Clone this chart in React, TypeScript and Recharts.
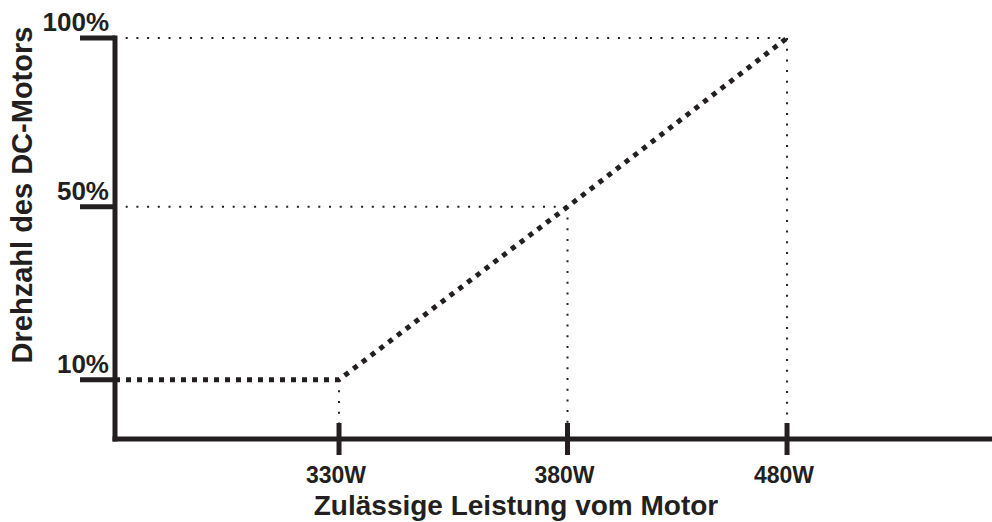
import { LineChart, Line, XAxis, YAxis, ReferenceLine, Label } from "recharts";

// x axis is drawn not to scale: each tick sits at its own slot
const powerLabels = ["330W", "380W", "480W"];
const powerPos = [1, 2.02, 3];

// y axis likewise not to scale (0–100 slot units)
const speedLabels = ["10%", "50%", "100%"];
const speedPos = [14.8, 57.9, 100];

const INK = "#231f20";
const FONT = '"Liberation Sans", Arial, Helvetica, sans-serif';

// motor speed curve: flat at minimum speed, then rising
const curve = [
  { x: 0, y: speedPos[0] },
  ...powerPos.map((p, i) => ({ x: p, y: speedPos[i] })),
];

function PowerTick({ x, y, index }: any) {
  return (
    <g>
      <line x1={x} x2={x} y1={y - 16} y2={y + 16} stroke={INK} strokeWidth={5} />
      <text
        x={x - 3}
        y={y + 44}
        textAnchor="middle"
        fontFamily={FONT}
        fontSize={23}
        fontWeight="bold"
        fill={INK}
      >
        {powerLabels[index]}
      </text>
    </g>
  );
}

function SpeedTick({ x, y, index }: any) {
  return (
    <g>
      <line x1={x - 35} x2={x} y1={y} y2={y} stroke={INK} strokeWidth={5} />
      <text
        x={x - 6}
        y={y - 7}
        textAnchor="end"
        fontFamily={FONT}
        fontSize={26}
        fontWeight="bold"
        fill={INK}
      >
        {speedLabels[index]}
      </text>
    </g>
  );
}

export default function App() {
  const axisLine = { stroke: INK, strokeWidth: 5, strokeLinecap: "square" as const };
  const guide = { stroke: INK, strokeWidth: 2, strokeDasharray: "2 8.7" };

  return (
    <div style={{ position: "absolute", left: 0, top: 0, width: 992, height: 522, background: "#fff" }}>
      <LineChart width={992} height={522} data={curve} margin={{ top: 38, right: 0, bottom: 0, left: 0 }}>
        <XAxis
          dataKey="x"
          type="number"
          domain={[0, 3.915]}
          ticks={powerPos}
          interval={0}
          height={83}
          tickSize={0}
          tickMargin={0}
          tickLine={false}
          axisLine={axisLine}
          tick={<PowerTick />}
        >
          <Label
            content={() => (
              <text
                x={516}
                y={515}
                textAnchor="middle"
                fontFamily={FONT}
                fontSize={28}
                fontWeight="bold"
                fill={INK}
              >
                Zulässige Leistung vom Motor
              </text>
            )}
          />
        </XAxis>
        <YAxis
          type="number"
          domain={[0, 100]}
          ticks={speedPos}
          interval={0}
          width={115}
          tickSize={0}
          tickMargin={0}
          tickLine={false}
          axisLine={axisLine}
          tick={<SpeedTick />}
        >
          <Label
            content={() => (
              <text
                transform="translate(32,195) rotate(-90)"
                textAnchor="middle"
                fontFamily={FONT}
                fontSize={29}
                fontWeight="bold"
                fill={INK}
              >
                Drehzahl des DC-Motors
              </text>
            )}
          />
        </YAxis>
        {powerPos.map((p, i) => (
          <ReferenceLine
            key={"v" + i}
            segment={[
              { x: p, y: speedPos[i] },
              { x: p, y: 0 },
            ]}
            {...guide}
          />
        ))}
        {powerPos.slice(1).map((p, i) => (
          <ReferenceLine
            key={"h" + i}
            segment={[
              { x: 0, y: speedPos[i + 1] },
              { x: p, y: speedPos[i + 1] },
            ]}
            {...guide}
          />
        ))}
        <Line
          type="linear"
          dataKey="y"
          stroke={INK}
          strokeWidth={5}
          strokeDasharray="5 6"
          dot={false}
          activeDot={false}
          isAnimationActive={false}
        />
      </LineChart>
    </div>
  );
}
